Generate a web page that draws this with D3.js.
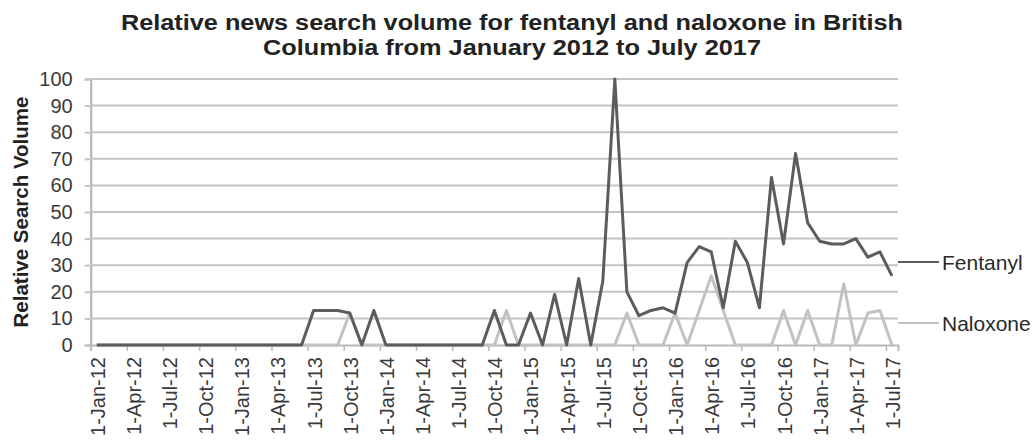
<!DOCTYPE html>
<html lang="en">

<head>
	<meta charset="utf-8">
	<title>Fentanyl and naloxone news search volume</title>
	<script src="https://d3js.org/d3.v7.js"></script>
	<style>
		body { margin: 0; background: #fff; }
		text { font-family: "Liberation Sans", Arial, sans-serif; }
	</style>
</head>

<body>
	<div id="chart"></div>

	<script>
		// monthly data, Jan 2012 to Jul 2017 (67 months)
		const months = d3.timeMonth.range(new Date(2012, 0, 1), new Date(2017, 7, 1));

		const fentanyl = [
			0, 0, 0, 0, 0, 0, 0, 0, 0, 0, 0, 0,        // 2012
			0, 0, 0, 0, 0, 0, 13, 13, 13, 12, 0, 13,   // 2013
			0, 0, 0, 0, 0, 0, 0, 0, 0, 13, 0, 0,       // 2014
			12, 0, 19, 0, 25, 0, 24, 100, 20, 11, 13, 14, // 2015
			12, 31, 37, 35, 14, 39, 31, 14, 63, 38, 72, 46, // 2016
			39, 38, 38, 40, 33, 35, 26                 // 2017
		];

		const naloxone = [
			0, 0, 0, 0, 0, 0, 0, 0, 0, 0, 0, 0,
			0, 0, 0, 0, 0, 0, 0, 0, 0, 12, 0, 0,
			0, 0, 0, 0, 0, 0, 0, 0, 0, 0, 13, 0,
			0, 0, 0, 0, 0, 0, 0, 0, 12, 0, 0, 0,
			12, 0, 13, 26, 13, 0, 0, 0, 0, 13, 0, 13,
			0, 0, 23, 0, 12, 13, 0
		];

		const tickLabels = [
			"1-Jan-12", "1-Apr-12", "1-Jul-12", "1-Oct-12",
			"1-Jan-13", "1-Apr-13", "1-Jul-13", "1-Oct-13",
			"1-Jan-14", "1-Apr-14", "1-Jul-14", "1-Oct-14",
			"1-Jan-15", "1-Apr-15", "1-Jul-15", "1-Oct-15",
			"1-Jan-16", "1-Apr-16", "1-Jul-16", "1-Oct-16",
			"1-Jan-17", "1-Apr-17", "1-Jul-17"
		];

		const yTicks = [0, 10, 20, 30, 40, 50, 60, 70, 80, 90, 100];

		const width = 1034, height = 441;
		const plot = { left: 90.7, right: 898, top: 79, bottom: 345 };

		const svg = d3.select("#chart")
			.append("svg")
			.attr("width", width)
			.attr("height", height);

		// month index scale; each month is a band, points sit mid-band
		const x = d3.scaleLinear().domain([0, months.length]).range([plot.left, plot.right]);
		const y = d3.scaleLinear().domain([0, 100]).range([plot.bottom, plot.top]);

		// title (two lines, stretched a little to the reference width)
		const titleLines = [
			{ text: "Relative news search volume for fentanyl and naloxone in British", y: 30, w: 782 },
			{ text: "Columbia from January 2012 to July 2017", y: 55, w: 498 }
		];
		svg.selectAll(".title")
			.data(titleLines)
			.join("text")
			.attr("class", "title")
			.attr("x", 512).attr("y", d => d.y)
			.attr("text-anchor", "middle")
			.attr("textLength", d => d.w)
			.attr("lengthAdjust", "spacingAndGlyphs")
			.style("font-size", "22px").style("font-weight", "bold").style("fill", "#222")
			.text(d => d.text);

		// gridlines + y axis
		const yAxis = svg.append("g")
			.attr("transform", `translate(${plot.left},0)`)
			.call(d3.axisLeft(y).tickValues(yTicks).tickSize(6).tickPadding(12))
		yAxis.select(".domain").attr("stroke", "#b0b0b0").attr("stroke-width", 2);
		yAxis.selectAll(".tick line").attr("stroke", "#c4c4c4").attr("stroke-width", 2);
		yAxis.selectAll(".tick text")
			.style("font-size", "20px").style("fill", "#3a3a3a");
		yAxis.attr("font-family", null);

		svg.append("g")
			.selectAll("line")
			.data(yTicks.filter(d => d > 0))
			.join("line")
			.attr("x1", plot.left).attr("x2", plot.right)
			.attr("y1", d => y(d)).attr("y2", d => y(d))
			.attr("stroke", "#c4c4c4").attr("stroke-width", 2);

		// x axis
		const xAxis = svg.append("g")
			.attr("transform", `translate(0,${plot.bottom})`)
			.call(d3.axisBottom(x).tickValues(d3.range(0, months.length, 3)).tickSize(6).tickFormat(""));
		xAxis.select(".domain").attr("stroke", "#b8b8b8").attr("stroke-width", 2);
		xAxis.selectAll(".tick line").attr("stroke", "#b8b8b8").attr("stroke-width", 1.5);

		svg.append("g")
			.selectAll("text")
			.data(tickLabels)
			.join("text")
			.attr("transform", (d, i) => `translate(${x(i * 3) + 7},357) rotate(-90)`)
			.attr("text-anchor", "end")
			.attr("dominant-baseline", "central")
			.style("font-size", "20px").style("fill", "#3a3a3a")
			.text(d => d);

		// y axis title
		svg.append("text")
			.attr("transform", `translate(20,${(plot.top + plot.bottom) / 2}) rotate(-90)`)
			.attr("text-anchor", "middle")
			.attr("dominant-baseline", "central")
			.style("font-size", "20.5px").style("font-weight", "bold").style("fill", "#222")
			.text("Relative Search Volume");

		// lines
		const line = d3.line()
			.x((d, i) => x(i + 0.5))
			.y(d => y(d));

		const series = [
			{ name: "Fentanyl", values: fentanyl, color: "#5c5c5c", labelY: 262 },
			{ name: "Naloxone", values: naloxone, color: "#c2c2c2", labelY: 323 }
		];

		// naloxone drawn first so fentanyl sits on top
		svg.selectAll(".series")
			.data(series.slice().reverse())
			.join("path")
			.attr("class", "series")
			.attr("d", d => line(d.values))
			.attr("fill", "none")
			.attr("stroke", d => d.color)
			.attr("stroke-width", 3)
			.attr("stroke-linejoin", "round");

		// labels with leader lines
		svg.selectAll(".leader")
			.data(series)
			.join("line")
			.attr("class", "leader")
			.attr("x1", plot.right).attr("x2", 939)
			.attr("y1", d => d.labelY).attr("y2", d => d.labelY)
			.attr("stroke", d => d.color).attr("stroke-width", 2);

		svg.selectAll(".label")
			.data(series)
			.join("text")
			.attr("class", "label")
			.attr("x", 942).attr("y", d => d.labelY)
			.attr("dominant-baseline", "central")
			.style("font-size", "21px").style("fill", "#2a2a2a")
			.text(d => d.name);
	</script>

</body>

</html>
